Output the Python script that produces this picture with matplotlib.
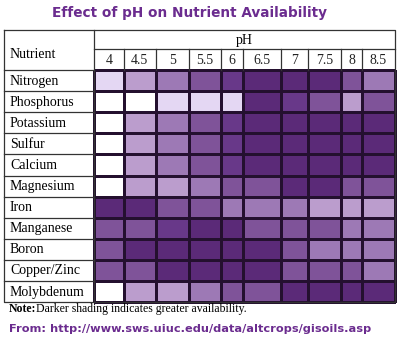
import numpy as np
import matplotlib.pyplot as plt
from matplotlib.colors import ListedColormap, BoundaryNorm

# pH columns and nutrient rows
ph_labels = ["4", "4.5", "5", "5.5", "6", "6.5", "7", "7.5", "8", "8.5"]
nutrients = ["Nitrogen", "Phosphorus", "Potassium", "Sulfur", "Calcium",
             "Magnesium", "Iron", "Manganese", "Boron", "Copper/Zinc",
             "Molybdenum"]

# availability level per cell (0 = none, 6 = greatest)
nitrogen    = [1, 2, 3, 4, 5, 6, 6, 6, 4, 3]
phosphorus  = [0, 0, 1, 1, 1, 6, 5, 4, 2, 4]
potassium   = [0, 2, 3, 4, 5, 6, 6, 6, 6, 6]
sulfur      = [0, 2, 3, 4, 5, 6, 6, 6, 6, 6]
calcium     = [0, 2, 3, 4, 5, 6, 6, 6, 6, 6]
magnesium   = [0, 2, 2, 3, 4, 4, 6, 6, 4, 4]
iron        = [6, 6, 4, 4, 3, 3, 3, 2, 2, 2]
manganese   = [4, 4, 5, 6, 6, 4, 4, 4, 3, 3]
boron       = [4, 6, 6, 6, 6, 6, 4, 3, 3, 3]
copper_zinc = [4, 4, 6, 6, 6, 6, 4, 4, 4, 3]
molybdenum  = [0, 2, 2, 3, 4, 4, 6, 6, 6, 6]

levels = np.array([nitrogen, phosphorus, potassium, sulfur, calcium,
                   magnesium, iron, manganese, boron, copper_zinc,
                   molybdenum])

# layout in pixel units (figure is 400 x 341)
col_edges = [94, 123.5, 156, 188.5, 221, 243, 281, 307.5, 341, 362, 395]
table_left, table_top = 4, 30
ph_row_bottom, header_bottom = 49, 70
row_h = 21.1
row_edges = header_bottom + row_h * np.arange(len(nutrients) + 1)

shades = ["#ffffff", "#e4d7f3", "#bb9dcd", "#9d79b5", "#7f5399",
          "#683889", "#5b2a78"]
cmap = ListedColormap(shades)
norm = BoundaryNorm(np.arange(-0.5, len(shades)), cmap.N)

purple = "#6b2c8f"
serif = "Liberation Serif"

fig = plt.figure(figsize=(4, 3.41), dpi=100)
ax = fig.add_axes([0, 0, 1, 1])
ax.set_xlim(0, 400)
ax.set_ylim(341, 0)
ax.axis("off")

ax.pcolormesh(col_edges, row_edges, levels, cmap=cmap, norm=norm,
              edgecolors="#24102f", linewidth=0.8)

# table rules
line_kw = dict(color="#333333", linewidth=0.9)
table_bottom = row_edges[-1]
table_right = col_edges[-1]
ax.plot([table_left, table_right, table_right, table_left, table_left],
        [table_top, table_top, table_bottom, table_bottom, table_top], **line_kw)
ax.plot([col_edges[0], col_edges[0]], [table_top, table_bottom], **line_kw)
ax.plot([col_edges[0], table_right], [ph_row_bottom, ph_row_bottom], **line_kw)
for x in col_edges[1:-1]:
    ax.plot([x, x], [ph_row_bottom, header_bottom], **line_kw)
for y in row_edges[:-1]:
    ax.plot([table_left, col_edges[0]], [y, y], **line_kw)

# header texts
ax.text((col_edges[0] + table_right) / 2, (table_top + ph_row_bottom) / 2 + 1,
        "pH", ha="center", va="center", fontsize=10, family=serif)
ax.text(table_left + 6, 55, "Nutrient", ha="left", va="center",
        fontsize=10, family=serif)
for i, lab in enumerate(ph_labels):
    ax.text((col_edges[i] + col_edges[i + 1]) / 2, (ph_row_bottom + header_bottom) / 2 + 1,
            lab, ha="center", va="center", fontsize=10, family=serif,
            color="#222222")
for j, name in enumerate(nutrients):
    ax.text(table_left + 6, (row_edges[j] + row_edges[j + 1]) / 2 + 0.5, name,
            ha="left", va="center", fontsize=10, family=serif)

# title, note and source
ax.text(190, 13, "Effect of pH on Nutrient Availability", ha="center",
        va="center", fontsize=9.8, fontweight="bold", color=purple)
ax.text(9, 309, "Note:", ha="left", va="center", fontsize=8.5,
        fontweight="bold", family=serif)
ax.text(36, 309, "Darker shading indicates greater availability.", ha="left",
        va="center", fontsize=8.5, family=serif)
ax.text(9, 329, "From: http://www.sws.uiuc.edu/data/altcrops/gisoils.asp",
        ha="left", va="center", fontsize=8.2, fontweight="bold", color=purple)

fig.savefig("out.png", dpi=100)
